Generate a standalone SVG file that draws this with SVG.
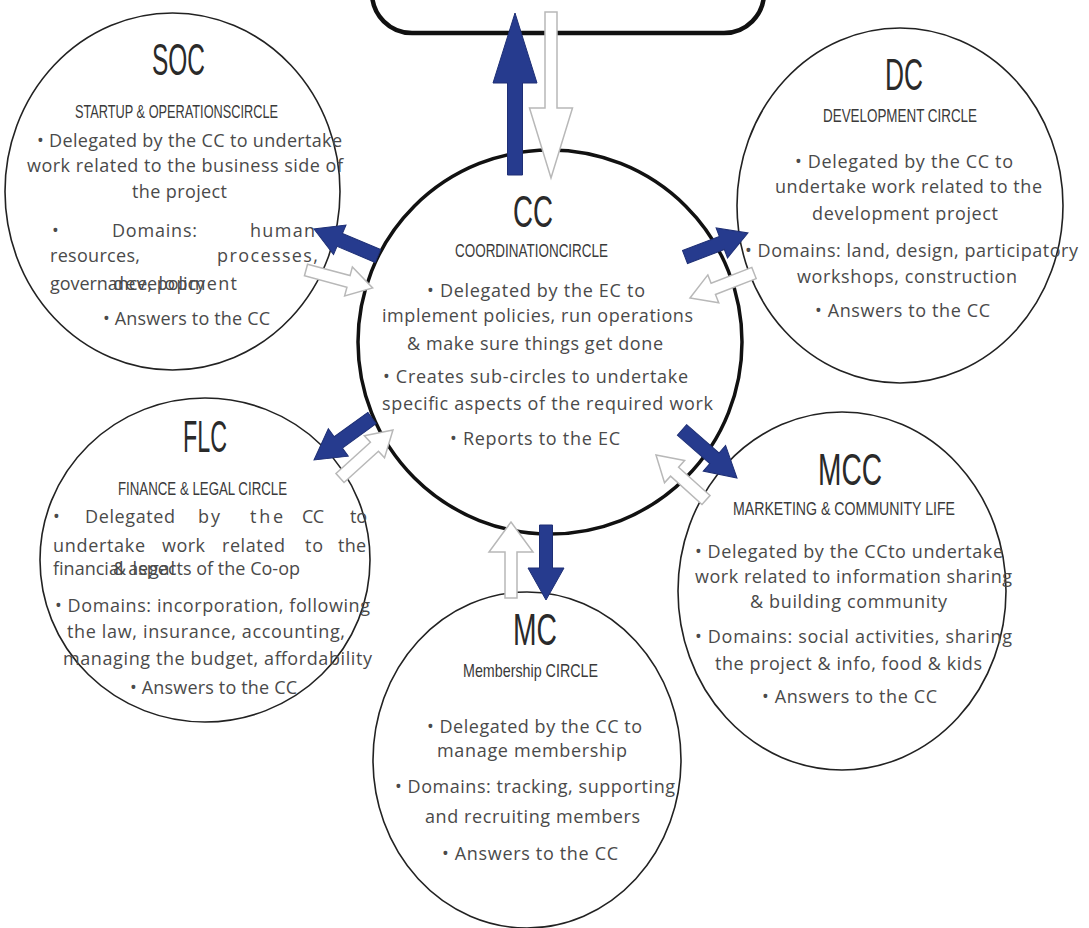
<svg xmlns="http://www.w3.org/2000/svg" width="1089" height="928" viewBox="0 0 1089 928">
<style>
.sat{fill:none;stroke:#222;stroke-width:1.6}
.cc{fill:none;stroke:#111;stroke-width:3.5}
.ec{fill:none;stroke:#111;stroke-width:4.5}
.t{font-family:"Liberation Sans",Arial,sans-serif;fill:#2a2a2a;font-size:44px}
.s{font-family:"Liberation Sans",Arial,sans-serif;fill:#3a3a3a;font-size:19px}
.b{font-family:"Open Sans","DejaVu Sans",sans-serif;fill:#4a4a4a;font-size:18px}
.blue{fill:#263b8e;stroke:#1e2f75;stroke-width:1}
.wh{fill:#fff;stroke:#b8b8b8;stroke-width:1.5}
</style>
<rect width="1089" height="928" fill="#fff"/>
<g id="EC"><rect class="ec" x="372" y="-60" width="392" height="93" rx="40"/></g>
<g id="CC">
<circle class="cc" cx="550" cy="342" r="192"/>
<text class="t" x="513" y="227" font-size="38" textLength="40" lengthAdjust="spacingAndGlyphs">CC</text>
<text class="s" x="455" y="257" textLength="153" lengthAdjust="spacingAndGlyphs">COORDINATIONCIRCLE</text>
<text class="b" x="427" y="297" textLength="218">• Delegated by the EC to</text>
<text class="b" x="382" y="322" textLength="311">implement policies, run operations</text>
<text class="b" x="407" y="350" textLength="256">&amp; make sure things get done</text>
<text class="b" x="383" y="383" textLength="305">• Creates sub-circles to undertake</text>
<text class="b" x="382" y="410" textLength="331">specific aspects of the required work</text>
<text class="b" x="450" y="445" textLength="170">• Reports to the EC</text>
</g>
<g id="SOC">
<ellipse class="sat" cx="172.5" cy="191.5" rx="167.5" ry="178.5"/>
<text class="t" x="152" y="75" textLength="53" lengthAdjust="spacingAndGlyphs">SOC</text>
<text class="s" x="75" y="118" textLength="203" lengthAdjust="spacingAndGlyphs">STARTUP &amp; OPERATIONSCIRCLE</text>
<text class="b" x="37" y="147" textLength="305">• Delegated by the CC to undertake</text>
<text class="b" x="27" y="172" textLength="316">work related to the business side of</text>
<text class="b" x="132" y="198" textLength="95">the project</text>
<text class="b" x="52" y="237">•</text>
<text class="b" x="112" y="237" textLength="85">Domains:</text>
<text class="b" x="250" y="237" textLength="65">human</text>
<text class="b" x="50" y="262" textLength="90">resources,</text>
<text class="b" x="217" y="262" textLength="101">processes,</text>
<text class="b" x="50" y="290" textLength="155">governance, policy</text>
<text class="b" x="113" y="290" textLength="124">development</text>
<text class="b" x="103" y="325" textLength="167">• Answers to the CC</text>
</g>
<g id="DC">
<ellipse class="sat" cx="900" cy="205.5" rx="163" ry="177.5"/>
<text class="t" x="885" y="90" textLength="38" lengthAdjust="spacingAndGlyphs">DC</text>
<text class="s" x="823" y="122" textLength="154" lengthAdjust="spacingAndGlyphs">DEVELOPMENT CIRCLE</text>
<text class="b" x="795" y="168" textLength="218">• Delegated by the CC to</text>
<text class="b" x="775" y="193" textLength="267">undertake work related to the</text>
<text class="b" x="812" y="220" textLength="186">development project</text>
<text class="b" x="745" y="257" textLength="333">• Domains: land, design, participatory</text>
<text class="b" x="797" y="283" textLength="220">workshops, construction</text>
<text class="b" x="815" y="317" textLength="175">• Answers to the CC</text>
</g>
<g id="FLC">
<ellipse class="sat" cx="205" cy="560" rx="165" ry="162"/>
<text class="t" x="183" y="452" textLength="44" lengthAdjust="spacingAndGlyphs">FLC</text>
<text class="s" x="118" y="495" textLength="169" lengthAdjust="spacingAndGlyphs">FINANCE &amp; LEGAL CIRCLE</text>
<text class="b" x="53" y="523">•</text>
<text class="b" x="85" y="523" textLength="90">Delegated</text>
<text class="b" x="198" y="523" textLength="22">by</text>
<text class="b" x="250" y="523" textLength="33">the</text>
<text class="b" x="302" y="523" textLength="22">CC</text>
<text class="b" x="350" y="523" textLength="17">to</text>
<text class="b" x="53" y="552" textLength="92">undertake</text>
<text class="b" x="162" y="552" textLength="43">work</text>
<text class="b" x="222" y="552" textLength="63">related</text>
<text class="b" x="305" y="552" textLength="18">to</text>
<text class="b" x="338" y="552" textLength="28">the</text>
<text class="b" x="53" y="575" textLength="247">financial aspects of the Co-op</text>
<text class="b" x="113" y="575" textLength="62">&amp; legal</text>
<text class="b" x="55" y="612" textLength="315">• Domains: incorporation, following</text>
<text class="b" x="67" y="638" textLength="278">the law, insurance, accounting,</text>
<text class="b" x="63" y="665" textLength="309">managing the budget, affordability</text>
<text class="b" x="130" y="694" textLength="167">• Answers to the CC</text>
</g>
<g id="MCC">
<ellipse class="sat" cx="842" cy="591" rx="164" ry="179"/>
<text class="t" x="818" y="485" textLength="64" lengthAdjust="spacingAndGlyphs">MCC</text>
<text class="s" x="733" y="515" textLength="222" lengthAdjust="spacingAndGlyphs">MARKETING &amp; COMMUNITY LIFE</text>
<text class="b" x="695" y="558" textLength="308">• Delegated by the CCto undertake</text>
<text class="b" x="695" y="583" textLength="317">work related to information sharing</text>
<text class="b" x="750" y="608" textLength="197">&amp; building community</text>
<text class="b" x="695" y="643" textLength="317">• Domains: social activities, sharing</text>
<text class="b" x="715" y="670" textLength="267">the project &amp; info, food &amp; kids</text>
<text class="b" x="762" y="703" textLength="175">• Answers to the CC</text>
</g>
<g id="MC">
<ellipse class="sat" cx="527" cy="760" rx="154" ry="168"/>
<text class="t" x="513" y="645" textLength="44" lengthAdjust="spacingAndGlyphs">MC</text>
<text class="s" x="463" y="677" textLength="135" lengthAdjust="spacingAndGlyphs">Membership CIRCLE</text>
<text class="b" x="427" y="733" textLength="215">• Delegated by the CC to</text>
<text class="b" x="437" y="757" textLength="190">manage membership</text>
<text class="b" x="395" y="793" textLength="280">• Domains: tracking, supporting</text>
<text class="b" x="425" y="823" textLength="215">and recruiting members</text>
<text class="b" x="442" y="860" textLength="176">• Answers to the CC</text>
</g>
<g id="connectors">
<path class="blue" transform="translate(515,175) rotate(-90)" d="M0,-7.5 L92,-7.5 L92,-22 L162,0 L92,22 L92,7.5 L0,7.5 Z"/>
<path class="wh" transform="translate(551,12) rotate(90)" d="M0,-6 L96,-6 L96,-21.5 L166,0 L96,21.5 L96,6 L0,6 Z"/>
<path class="blue" transform="translate(378,256) rotate(-157.1)" d="M0,-7 L41.5,-7 L41.5,-16 L69.5,0 L41.5,16 L41.5,7 L0,7 Z"/>
<path class="wh" transform="translate(306,270) rotate(15)" d="M0,-6 L44,-6 L44,-15 L69,0 L44,15 L44,6 L0,6 Z"/>
<path class="blue" transform="translate(685,257) rotate(-20.9)" d="M0,-7 L39.4,-7 L39.4,-16 L67.4,0 L39.4,16 L39.4,7 L0,7 Z"/>
<path class="wh" transform="translate(754,273) rotate(158.7)" d="M0,-6 L43.7,-6 L43.7,-15 L68.7,0 L43.7,15 L43.7,6 L0,6 Z"/>
<path class="blue" transform="translate(372,418) rotate(144.1)" d="M0,-7 L41.6,-7 L41.6,-17 L71.6,0 L41.6,17 L41.6,7 L0,7 Z"/>
<path class="wh" transform="translate(340,478) rotate(-42.2)" d="M0,-6 L46.5,-6 L46.5,-15 L71.5,0 L46.5,15 L46.5,6 L0,6 Z"/>
<path class="blue" transform="translate(682,430) rotate(41.1)" d="M0,-7 L43,-7 L43,-17 L73,0 L43,17 L43,7 L0,7 Z"/>
<path class="wh" transform="translate(706,500) rotate(-138)" d="M0,-6 L42.3,-6 L42.3,-15 L67.3,0 L42.3,15 L42.3,6 L0,6 Z"/>
<path class="wh" transform="translate(511,598) rotate(-90)" d="M0,-6 L46,-6 L46,-22 L76,0 L46,22 L46,6 L0,6 Z"/>
<path class="blue" transform="translate(546,525) rotate(90)" d="M0,-6.5 L43,-6.5 L43,-18 L75,0 L43,18 L43,6.5 L0,6.5 Z"/>
</g>
</svg>
